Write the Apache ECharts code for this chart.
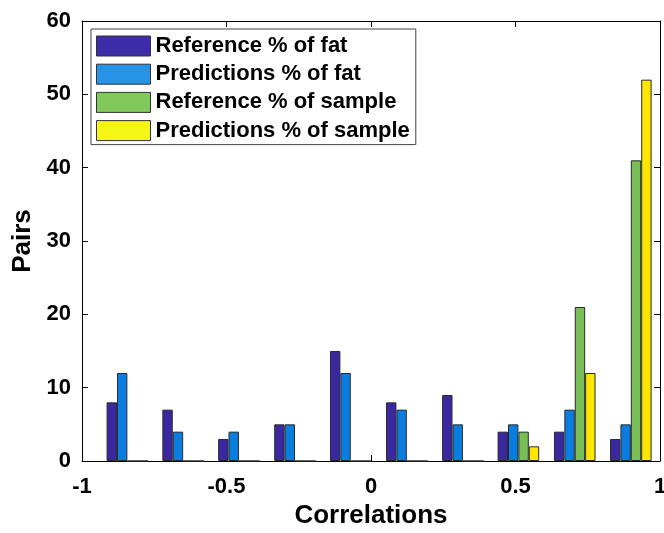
<!DOCTYPE html>
<html>
<head>
<meta charset="utf-8">
<script src="https://cdn.jsdelivr.net/npm/echarts@6/dist/echarts.min.js"></script>
<style>
  html, body { margin: 0; padding: 0; background: #fff; }
  #main { width: 664px; height: 533px; }
</style>
</head>
<body>
<div id="main"></div>
<script>
// histogram bin centres (correlation value)
var binCenters = [-0.843, -0.65, -0.457, -0.263, -0.07, 0.124, 0.318, 0.51, 0.705, 0.899];

var seriesNames = ['Reference % of fat', 'Predictions % of fat', 'Reference % of sample', 'Predictions % of sample'];
var refFat = [8, 7, 3, 5, 15, 8, 9, 4, 4, 3];
var predFat = [12, 4, 4, 5, 12, 7, 5, 5, 7, 5];
var refSample = [0, 0, 0, 0, 0, 0, 0, 4, 21, 41];
var predSample = [0, 0, 0, 0, 0, 0, 0, 2, 12, 52];

var barColors = ['#3a28a0', '#0b7de0', '#77bf56', '#ffe600'];
var legendColors = ['#3e2ca8', '#2894e8', '#80c95a', '#f5f516'];

var xTicks = [-1, -0.5, 0, 0.5, 1];
var yMax = 60, yStep = 10;

var chart = echarts.init(document.getElementById('main'), null, { renderer: 'canvas' });

var font = 'Liberation Sans, Arial, sans-serif';

function pairs(vals) {
  return vals.map(function (v, i) { return [binCenters[i], v]; });
}

var allVals = [refFat, predFat, refSample, predSample];

var series = allVals.map(function (vals, k) {
  return {
    name: seriesNames[k],
    type: 'bar',
    xAxisIndex: 0,
    yAxisIndex: 0,
    data: pairs(vals),
    barWidth: 10.4,
    barGap: '0%',
    itemStyle: {
      color: barColors[k],
      borderColor: '#2a2a2a',
      borderWidth: 1
    },
    emphasis: { disabled: true }
  };
});

var tickStyle = { show: true, inside: true, length: 6, lineStyle: { color: '#000', width: 1 } };

var option = {
  backgroundColor: '#fff',
  animation: false,
  textStyle: { fontFamily: font },
  grid: { left: 82, right: 4, top: 21, bottom: 72, show: false, outerBoundsMode: 'none', containLabel: false },
  legend: {
    orient: 'vertical',
    left: 91,
    top: 29,
    itemWidth: 54,
    itemHeight: 20,
    itemGap: 6.2,
    padding: [6, 6, 3, 5],
    backgroundColor: '#fff',
    borderColor: '#444',
    borderWidth: 1,
    icon: 'rect',
    selectedMode: false,
    itemStyle: { borderColor: '#333', borderWidth: 1 },
    textStyle: { fontSize: 22, fontWeight: 'bold', color: '#000', fontFamily: font },
    data: seriesNames.map(function (n, k) {
      return { name: n, itemStyle: { color: legendColors[k] } };
    })
  },
  xAxis: [{
    type: 'value',
    min: xTicks[0],
    max: xTicks[xTicks.length - 1],
    interval: 0.5,
    name: 'Correlations',
    nameLocation: 'middle',
    nameGap: 39,
    nameTextStyle: { fontSize: 26, fontWeight: 'bold', color: '#000' },
    axisLine: { show: true, onZero: false, lineStyle: { color: '#000', width: 1 } },
    axisTick: tickStyle,
    axisLabel: { fontSize: 22, fontWeight: 'bold', color: '#000', margin: 15 },
    splitLine: { show: false }
  }, {
    type: 'value',
    position: 'top',
    min: xTicks[0],
    max: xTicks[xTicks.length - 1],
    interval: 0.5,
    axisLine: { show: true, onZero: false, lineStyle: { color: '#000', width: 1 } },
    axisTick: tickStyle,
    axisLabel: { show: false },
    splitLine: { show: false }
  }],
  yAxis: [{
    type: 'value',
    min: 0,
    max: yMax,
    interval: yStep,
    name: 'Pairs',
    nameLocation: 'middle',
    nameGap: 43,
    nameTextStyle: { fontSize: 26, fontWeight: 'bold', color: '#000' },
    axisLine: { show: true, onZero: false, lineStyle: { color: '#000', width: 1 } },
    axisTick: tickStyle,
    axisLabel: { fontSize: 22, fontWeight: 'bold', color: '#000', margin: 11 },
    splitLine: { show: false }
  }, {
    type: 'value',
    position: 'right',
    min: 0,
    max: yMax,
    interval: yStep,
    axisLine: { show: true, onZero: false, lineStyle: { color: '#000', width: 1 } },
    axisTick: tickStyle,
    axisLabel: { show: false },
    splitLine: { show: false }
  }],
  series: series
};

chart.setOption(option);
</script>
</body>
</html>
